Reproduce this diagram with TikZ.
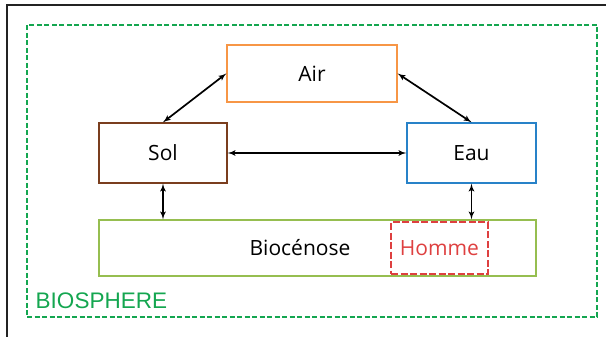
\documentclass[tikz,border=0pt]{standalone}
\usepackage{fontspec}
\setmainfont{Open Sans}
\newfontfamily\arialfont{Liberation Sans}
\usetikzlibrary{arrows}

\definecolor{airorange}{RGB}{247,150,70}
\definecolor{solbrown}{RGB}{122,62,30}
\definecolor{eaublue}{RGB}{40,130,200}
\definecolor{biogreen}{RGB}{150,190,80}
\definecolor{hommered}{RGB}{222,64,64}
\definecolor{biogreendark}{RGB}{20,166,80}
\definecolor{framegray}{RGB}{35,35,35}

\begin{document}
\begin{tikzpicture}[
    x=1pt,
    y=-1pt,
    thick
]

% =========================
% Styles
% =========================
\tikzstyle{compart} = [
    rectangle, draw,
    line width=1.4pt,
    text centered,
    font=\fontsize{21}{24}\selectfont
]

\tikzstyle{homme} = [
    rectangle, draw=hommered,
    dashed,
    dash pattern=on 7pt off 2.5pt,
    line width=2.8pt,
    text=hommered,
    minimum width=97pt,
    minimum height=52pt,
    font=\fontsize{21}{24}\selectfont
]

\tikzstyle{line} = [draw, latex'-latex', line width=1.7pt]

\useasboundingbox (0,0) rectangle (606,337);

% =========================
% Frame
% =========================
\draw[framegray, line width=2.2pt] (7,337) -- (7,5) -- (606,5);

\node[
    draw=biogreendark,
    dashed,
    dash pattern=on 5pt off 2.5pt,
    line width=1.6pt,
    minimum width=570pt,
    minimum height=292pt
] (biosphere) at (312,171) {};
\node[anchor=base west, text=biogreendark, font=\arialfont\fontsize{22.5}{25}\selectfont]
    (biolabel) at (32,308) {BIOSPHERE};

% =========================
% Nodes (FIXED POSITIONS)
% =========================
\node[compart, draw=airorange, minimum width=170pt, minimum height=57pt]
    (air) at (312,73.5) {Air};

\node[compart, draw=solbrown, minimum width=128pt, minimum height=60pt]
    (sol) at (163,153) {Sol};

\node[compart, draw=eaublue, minimum width=129pt, minimum height=60pt]
    (eau) at (471.5,153) {Eau};

\node[compart, draw=biogreen, minimum width=437pt, minimum height=56pt]
    (bio) at (317.5,248) {};
\node[font=\fontsize{21}{24}\selectfont] (biotext) at (300,248) {Biocénose};

\node[homme] (homme) at (439.5,248) {Homme};

% =========================
% Connections
% =========================
\path[line] (sol.north) -- (air.west);
\path[line] (air.east) -- (eau.north);
\path[line] (sol.east) -- (eau.west);
\path[line] (sol.south) -- (sol.south |- bio.north);
\path[line] (eau.south) -- (eau.south |- bio.north);

\end{tikzpicture}
\end{document}
